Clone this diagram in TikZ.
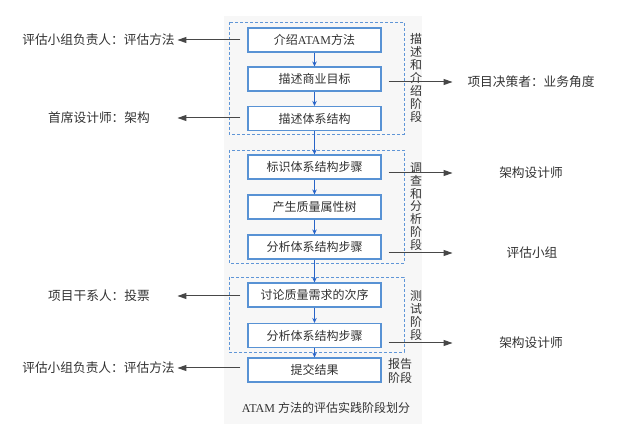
\documentclass[tikz,border=0pt]{standalone}
\usepackage{fontspec}
\setmainfont{Liberation Serif}
\newfontfamily\cjk{Noto Sans CJK SC}
\usetikzlibrary{arrows.meta}
\definecolor{boxblue}{RGB}{88,146,212}
\definecolor{dashblue}{RGB}{96,150,215}
\definecolor{arrblue}{RGB}{40,100,200}
\definecolor{txt}{RGB}{50,50,50}
\definecolor{bggray}{RGB}{247,247,247}
\tikzset{
  stepbox/.style={draw=boxblue,line width=1.1pt,fill=white,minimum width=133pt,minimum height=24pt,inner sep=0pt,text=txt,font=\fontsize{12}{14}\selectfont\cjk},
  phasebox/.style={draw=dashblue,line width=0.9pt,dash pattern=on 3pt off 2pt},
  flow/.style={draw=arrblue,line width=0.9pt,-{Stealth[length=5pt,width=4.5pt]}},
  sidearrow/.style={draw=txt!90,line width=1pt,-{Triangle[length=9pt,width=6pt]}},
  outlabel/.style={text=txt,font=\fontsize{12.7}{15}\selectfont\cjk,inner sep=0pt},
  phaselabel/.style={text=txt,font=\fontsize{12}{12.9}\selectfont\cjk,align=center,inner sep=0pt},
}
\begin{document}
\begin{tikzpicture}[x=1pt,y=-1pt]
\useasboundingbox (0,0) rectangle (630,438);
\fill[bggray] (224,16) rectangle (422,424);
% phase frames
\draw[phasebox] (229,22) rectangle (404,134);
\draw[phasebox] (229,150) rectangle (404,263);
\draw[phasebox] (229,277) rectangle (404,352);
% step boxes
\node[stepbox] (b1) at (314.5,40) {介绍{\rmfamily ATAM}方法};
\node[stepbox] (b2) at (314.5,79) {描述商业目标};
\node[stepbox] (b3) at (314.5,118.5) {描述体系结构};
\node[stepbox] (b4) at (314.5,167) {标识体系结构步骤};
\node[stepbox] (b5) at (314.5,207) {产生质量属性树};
\node[stepbox] (b6) at (314.5,247) {分析体系结构步骤};
\node[stepbox] (b7) at (314.5,295) {讨论质量需求的次序};
\node[stepbox] (b8) at (314.5,335.5) {分析体系结构步骤};
\node[stepbox] (b9) at (314.5,370) {提交结果};
% flow arrows
\draw[flow] (b1) -- (b2);
\draw[flow] (b2) -- (b3);
\draw[flow] (b3) -- (b4);
\draw[flow] (b4) -- (b5);
\draw[flow] (b5) -- (b6);
\draw[flow] (b6) -- (b7);
\draw[flow] (b7) -- (b8);
\draw[flow] (b8) -- (b9);
% phase labels
\node[phaselabel] (p1) at (416,78) {描\\述\\和\\介\\绍\\阶\\段};
\node[phaselabel] (p2) at (416,206.5) {调\\查\\和\\分\\析\\阶\\段};
\node[phaselabel] (p3) at (416,315.5) {测\\试\\阶\\段};
\node[phaselabel,font=\fontsize{12}{14.5}\selectfont\cjk] (p4) at (400,371) {报告\\阶段};
% left labels
\node[outlabel] (l1) at (98.5,40) {评估小组负责人：评估方法};
\node[outlabel] (l2) at (99,118) {首席设计师：架构};
\node[outlabel] (l3) at (99,296) {项目干系人：投票};
\node[outlabel] (l4) at (98.5,368) {评估小组负责人：评估方法};
% right labels
\node[outlabel] (r1) at (531,82) {项目决策者：业务角度};
\node[outlabel] (r2) at (531,173) {架构设计师};
\node[outlabel] (r3) at (532,253) {评估小组};
\node[outlabel] (r4) at (531,343) {架构设计师};
% anchor points of side arrows
\coordinate (sl1) at (b1.west |- l1);
\coordinate (sl2) at (b3.west |- l2);
\coordinate (sl3) at (b7.west |- l3);
\coordinate (sl4) at (b9.west |- l4);
\coordinate (sr1) at (b2.east |- r1);
\coordinate (sr2) at (b4.east |- r2);
\coordinate (sr3) at (b6.east |- r3);
\coordinate (sr4) at (b8.east |- r4);
% side arrows
\foreach \s in {sl1,sl2,sl3,sl4}
  \draw[sidearrow] ([xshift=-7pt]\s) -- ++(-63,0);
\foreach \s in {sr1,sr2,sr3,sr4}
  \draw[sidearrow] ([xshift=7pt]\s) -- ++(64,0);
% caption
\node[text=txt,font=\fontsize{12}{14}\selectfont,inner sep=0pt] (cap) at (326,408) {ATAM {\cjk 方法的评估实践阶段划分}};
\end{tikzpicture}
\end{document}
